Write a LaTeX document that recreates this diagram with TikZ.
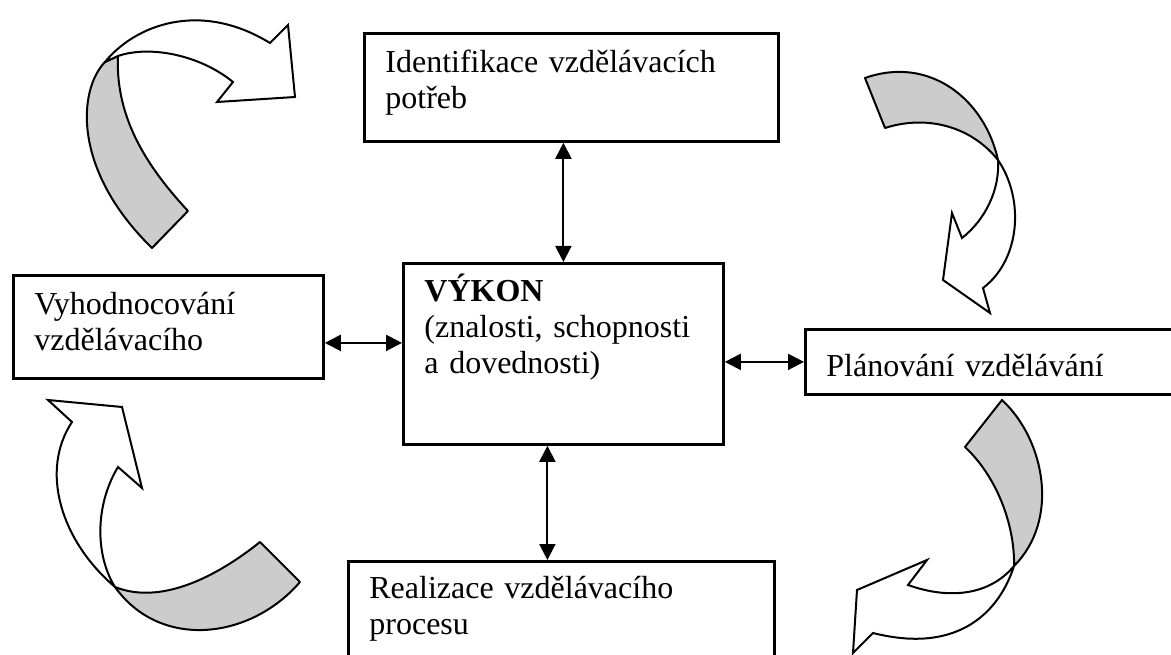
\documentclass[tikz,border=0pt]{standalone}
\usepackage{fontspec}
\setmainfont{Liberation Serif}
\usepackage{tikz}
\usetikzlibrary{arrows.meta,calc}
\newcommand{\boxfont}{\fontsize{32}{36}\selectfont}
\tikzset{
  procbox/.style={rectangle, draw=black, line width=2.8pt, anchor=north west,
    inner xsep=21pt, inner ysep=0pt, align=left, font=\boxfont},
  biarrow/.style={{Triangle[length=16pt,width=16pt]}-{Triangle[length=16pt,width=16pt]},
    draw=black, line width=2pt},
  ribbonback/.style={draw=black, fill=gray!40, line width=2pt, line join=round},
  ribbonfront/.style={draw=black, fill=white, line width=2pt, line join=miter},
}
\begin{document}
\begin{tikzpicture}[x=1pt, y=-1pt]
  \useasboundingbox (0,0) rectangle (1171,655);
  \clip (0,0) rectangle (1171,655);

  % ============ Boxes of the cycle ============
  \node[procbox, text width=372pt, text height=39pt, text depth=69pt]
    (ident) at (363,32) {Identifikace vzdělávacích\\potřeb};
  \node[procbox, text width=278pt, text height=38pt, text depth=143pt]
    (vykon) at (402,262) {\textbf{VÝKON}\\(znalosti, schopnosti\\a dovednosti)};
  \node[procbox, text width=268pt, text height=39pt, text depth=64pt]
    (vyhod) at (12,274) {Vyhodnocování\\vzdělávacího};
  \node[procbox, text width=358pt, text height=47pt, text depth=18pt]
    (plan) at (804,328) {Plánování vzdělávání};
  \node[procbox, text width=384pt, text height=37pt, text depth=93pt]
    (real) at (347,560) {Realizace vzdělávacího\\procesu};

  % ============ Double arrows to the centre ============
  \draw[biarrow] (vykon.north) -- (vykon.north |- ident.south);
  \draw[biarrow] ([xshift=-16pt]vykon.south) -- ([xshift=-16pt]vykon.south |- real.north);
  \draw[biarrow] ([yshift=-16pt]vyhod.east) -- ([yshift=-16pt]vyhod.east -| vykon.west);
  \draw[biarrow] (plan.west) -- (plan.west -| vykon.east);

  % ============ Curved ribbon arrows ============
  % top left: from Vyhodnocovani up to Identifikace
  \draw[ribbonback] (152,248) -- (188,211) .. controls (150,170) and (115,120) .. (118,56)
    -- (105,62) .. controls (78,90) and (72,170) .. (152,248) -- cycle;
  \draw[ribbonfront] (105,62) .. controls (135,25) and (200,0) .. (270,43)
    -- (288,25) -- (295,97) -- (217,102) -- (233,82)
    .. controls (200,55) and (150,45) .. (118,56) -- cycle;

  % top right: from Identifikace down to Planovani
  \draw[ribbonback] (865,78) .. controls (930,55) and (985,100) .. (998,160)
    .. controls (970,125) and (925,115) .. (885,128) -- cycle;
  \draw[ribbonfront] (998,160) .. controls (1000,190) and (985,220) .. (962,238)
    -- (952,213) -- (943,280) -- (990,313) -- (983,288)
    .. controls (1020,260) and (1025,200) .. (998,160) -- cycle;

  % bottom right: from Planovani down to Realizace
  \draw[ribbonback] (965,447) -- (1002,400) .. controls (1045,440) and (1060,520) .. (1014,566)
    .. controls (1015,530) and (1000,480) .. (965,447) -- cycle;
  \draw[ribbonfront] (1014,566) .. controls (1000,610) and (960,655) .. (873,633)
    -- (853,653) -- (857,590) -- (927,560) -- (908,585)
    .. controls (950,600) and (990,595) .. (1014,566) -- cycle;

  % bottom left: from Realizace up to Vyhodnocovani
  \draw[ribbonback] (260,542) -- (300,582) .. controls (250,640) and (160,650) .. (115,587)
    .. controls (160,605) and (215,578) .. (260,542) -- cycle;
  \draw[ribbonfront] (115,587) .. controls (60,540) and (40,470) .. (72,422)
    -- (48,400) -- (122,407) -- (142,488) -- (118,467)
    .. controls (95,505) and (95,555) .. (115,587) -- cycle;

\end{tikzpicture}
\end{document}
